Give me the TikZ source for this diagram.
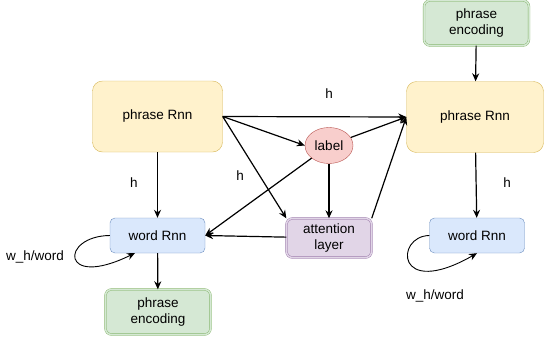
\documentclass[tikz,border=0pt]{standalone}
\usepackage{fontspec}
\setmainfont{Liberation Sans}
\usetikzlibrary{shapes.geometric,arrows.meta}
\definecolor{rnnfill}{HTML}{FFF2CC}
\definecolor{rnnline}{HTML}{D6B656}
\definecolor{wordfill}{HTML}{DAE8FC}
\definecolor{wordline}{HTML}{6C8EBF}
\definecolor{encfill}{HTML}{D5E8D4}
\definecolor{encline}{HTML}{82B366}
\definecolor{labfill}{HTML}{F8CECC}
\definecolor{labline}{HTML}{B85450}
\definecolor{attfill}{HTML}{E1D5E7}
\definecolor{attline}{HTML}{9673A6}
\begin{document}
\begin{tikzpicture}[x=1pt,y=-1pt,font=\fontsize{13.5}{15.5}\selectfont,
    arrow/.style = {line width=1.2pt,-{Stealth[length=8pt,width=7pt]}},
    phrasernn/.style = {draw=rnnline,fill=rnnfill,rounded corners=10pt,minimum height=71pt},
    wordrnn/.style = {draw=wordline,fill=wordfill,rounded corners=5pt,minimum width=95pt,minimum height=35pt},
    encbox/.style = {draw=encline,double=encfill,double distance=1.5pt,fill=encfill,rounded corners=6pt,
                     minimum width=105pt,minimum height=45pt,align=center},
    attbox/.style = {draw=attline,double=attfill,double distance=1.5pt,fill=attfill,rounded corners=6pt,
                     minimum width=85pt,minimum height=39pt,align=center}]
                \useasboundingbox (0,0) rectangle (545,343);

                \node[phrasernn,minimum width=130pt] (prnnL) at (157.5,116.5) {phrase Rnn};
                \node[phrasernn,minimum width=137pt] (prnnR) at (475,117) {phrase Rnn};
                \node[wordrnn] (wrnnL) at (157.5,235.5) {word Rnn};
                \node[wordrnn] (wrnnR) at (477,235.5) {word Rnn};
                \node[encbox] (encL) at (158,312) {phrase\\encoding};
                \node[encbox] (encR) at (476.5,23) {phrase\\encoding};
                \node[ellipse,draw=labline,fill=labfill,minimum width=48pt,minimum height=36pt,inner sep=0pt]
                    (lab) at (329,145.5) {label};
                \node[attbox] (att) at (329,238) {attention\\layer};

                \draw[arrow] (prnnL) -- (wrnnL);
                \draw[arrow] (prnnL.east) -- (prnnR.west);
                \draw[arrow] (prnnL.east) -- (lab.west);
                \draw[arrow] (prnnL.east) -- (att.north west);
                \draw[arrow] (lab) -- (prnnR.west);
                \draw[arrow] (lab) -- (att);
                \draw[arrow] (lab) -- (wrnnL.east);
                \draw[arrow] (att) -- (wrnnL.east);
                \draw[arrow] (att.north east) -- (prnnR.west);
                \draw[arrow] (wrnnL) -- (encL);
                \draw[arrow] (encR) -- (prnnR);
                \draw[arrow] (prnnR) -- (wrnnR);
                \draw[arrow,line width=0.9pt] (wrnnL.west) .. controls (60,236) and (60,290) .. (135,253);
                \draw[arrow,line width=0.9pt] (wrnnR.west) .. controls (395,236) and (395,300) .. (wrnnR.south);

                \node (hTop) at (329,94) {h};
                \node (hLeft) at (134,183) {h};
                \node (hMid) at (240,176) {h};
                \node (hRight) at (507,183) {h};
                \node (loopL) at (35,257) {w\_h/word};
                \node (loopR) at (435,296) {w\_h/word};
            \end{tikzpicture}
\end{document}
